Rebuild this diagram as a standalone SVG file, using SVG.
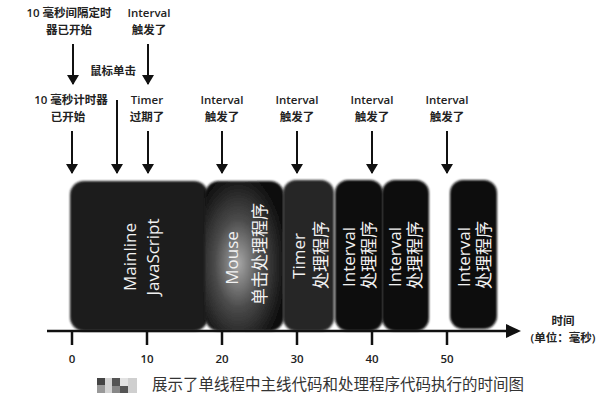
<svg xmlns="http://www.w3.org/2000/svg" width="610" height="405" viewBox="0 0 610 405">
<style>
.lbl{font-family:"Open Sans","Noto Sans CJK SC",sans-serif;font-size:11.5px;font-weight:600;fill:#222;text-anchor:middle}
.box{font-family:"Open Sans","Noto Sans CJK SC",sans-serif;font-size:17px;fill:#f2f2f2;text-anchor:middle;dominant-baseline:central}
.arr{stroke:#111;stroke-width:2;fill:none;marker-end:url(#ah)}
.tick{stroke:#111;stroke-width:2.5}
.cap{font-family:"Noto Sans CJK SC",sans-serif;font-size:15.5px;fill:#333}
</style>
<defs>
<marker id="ah" viewBox="0 0 10 12" refX="9" refY="6" markerWidth="10" markerHeight="12" markerUnits="userSpaceOnUse" orient="auto">
<path d="M0,0 L10,6 L0,12 Z" fill="#111"/>
</marker>
<filter id="soft" x="-10%" y="-10%" width="120%" height="120%">
<feGaussianBlur stdDeviation="1.3"/>
</filter>
<radialGradient id="mg" cx="0.42" cy="0.55" r="0.6">
<stop offset="0" stop-color="#a8a8a8"/>
<stop offset="0.5" stop-color="#4a4a4a"/>
<stop offset="1" stop-color="#111"/>
</radialGradient>
</defs>
<rect width="610" height="405" fill="#fff"/>

<g id="mainline">
<rect x="70" y="181" width="138" height="150" rx="14" fill="#1c1c1c" filter="url(#soft)"/>
<text class="box" transform="translate(129,257) rotate(-90)">Mainline</text>
<text class="box" transform="translate(152,257) rotate(-90)">JavaScript</text>
</g>
<g id="mouse">
<rect x="205" y="181" width="79" height="150" rx="14" fill="url(#mg)" filter="url(#soft)"/>
<text class="box" transform="translate(231,258) rotate(-90)">Mouse</text>
<text class="box" transform="translate(259,254) rotate(-90)">单击处理程序</text>
</g>
<g id="timer">
<rect x="283" y="180" width="51" height="151" rx="13" fill="#262626" filter="url(#soft)"/>
<text class="box" transform="translate(298,256) rotate(-90)">Timer</text>
<text class="box" transform="translate(320,255) rotate(-90)">处理程序</text>
</g>
<g id="interval1">
<rect x="335" y="180" width="48" height="151" rx="13" fill="#0c0c0c" filter="url(#soft)"/>
<text class="box" transform="translate(348,257) rotate(-90)">Interval</text>
<text class="box" transform="translate(368,255) rotate(-90)">处理程序</text>
</g>
<g id="interval2">
<rect x="382" y="180" width="47" height="151" rx="13" fill="#0c0c0c" filter="url(#soft)"/>
<text class="box" transform="translate(394,257) rotate(-90)">Interval</text>
<text class="box" transform="translate(414,255) rotate(-90)">处理程序</text>
</g>
<g id="interval3">
<rect x="450" y="180" width="47" height="149" rx="13" fill="#0c0c0c" filter="url(#soft)"/>
<text class="box" transform="translate(463,257) rotate(-90)">Interval</text>
<text class="box" transform="translate(483,255) rotate(-90)">处理程序</text>
</g>

<g id="axis">
<line x1="47" y1="331" x2="508" y2="331" stroke="#111" stroke-width="2.5"/>
<path d="M506,324 L521,331 L506,338 Z" fill="#111"/>
<line class="tick" x1="72" y1="331" x2="72" y2="345"/>
<line class="tick" x1="147" y1="331" x2="147" y2="345"/>
<line class="tick" x1="222" y1="331" x2="222" y2="345"/>
<line class="tick" x1="297" y1="331" x2="297" y2="345"/>
<line class="tick" x1="372" y1="331" x2="372" y2="345"/>
<line class="tick" x1="447" y1="331" x2="447" y2="345"/>
<text class="lbl" x="72" y="363">0</text>
<text class="lbl" x="147" y="363">10</text>
<text class="lbl" x="222" y="363">20</text>
<text class="lbl" x="297" y="363">30</text>
<text class="lbl" x="372" y="363">40</text>
<text class="lbl" x="447" y="363">50</text>
<text class="lbl" x="563" y="325">时间</text>
<text class="lbl" x="563" y="342">(单位：毫秒)</text>
</g>

<g id="connectors">
<line class="arr" x1="73" y1="44" x2="73" y2="84"/>
<line class="arr" x1="148" y1="44" x2="148" y2="84"/>
<line class="arr" x1="72" y1="131" x2="72" y2="173"/>
<line class="arr" x1="117" y1="100" x2="117" y2="173"/>
<line class="arr" x1="148" y1="131" x2="148" y2="173"/>
<line class="arr" x1="222" y1="131" x2="222" y2="173"/>
<line class="arr" x1="297" y1="131" x2="297" y2="173"/>
<line class="arr" x1="372" y1="131" x2="372" y2="173"/>
<line class="arr" x1="447" y1="131" x2="447" y2="173"/>
</g>

<g id="events">
<text class="lbl" x="69" y="17">10 毫秒间隔定时</text>
<text class="lbl" x="69" y="34">器已开始</text>
<text class="lbl" x="149" y="17">Interval</text>
<text class="lbl" x="149" y="34">触发了</text>
<text class="lbl" x="113" y="75">鼠标单击</text>
<text class="lbl" x="71" y="104">10 毫秒计时器</text>
<text class="lbl" x="68" y="121">已开始</text>
<text class="lbl" x="147" y="104">Timer</text>
<text class="lbl" x="147" y="121">过期了</text>
<text class="lbl" x="222" y="104">Interval</text>
<text class="lbl" x="222" y="121">触发了</text>
<text class="lbl" x="297" y="104">Interval</text>
<text class="lbl" x="297" y="121">触发了</text>
<text class="lbl" x="372" y="104">Interval</text>
<text class="lbl" x="372" y="121">触发了</text>
<text class="lbl" x="447" y="104">Interval</text>
<text class="lbl" x="447" y="121">触发了</text>
</g>

<g id="caption">
<rect x="97" y="378" width="8" height="7" fill="#444"/>
<rect x="97" y="385" width="8" height="8" fill="#999"/>
<rect x="105" y="378" width="7" height="15" fill="#d4d4d4"/>
<rect x="112" y="378" width="8" height="8" fill="#555"/>
<rect x="112" y="386" width="8" height="7" fill="#888"/>
<rect x="120" y="378" width="8" height="8" fill="#e2e2e2"/>
<rect x="120" y="386" width="8" height="7" fill="#555"/>
<rect x="128" y="378" width="9" height="15" fill="#cfcfcf"/>
<text class="cap" x="152" y="390">展示了单线程中主线代码和处理程序代码执行的时间图</text>
</g>
</svg>
